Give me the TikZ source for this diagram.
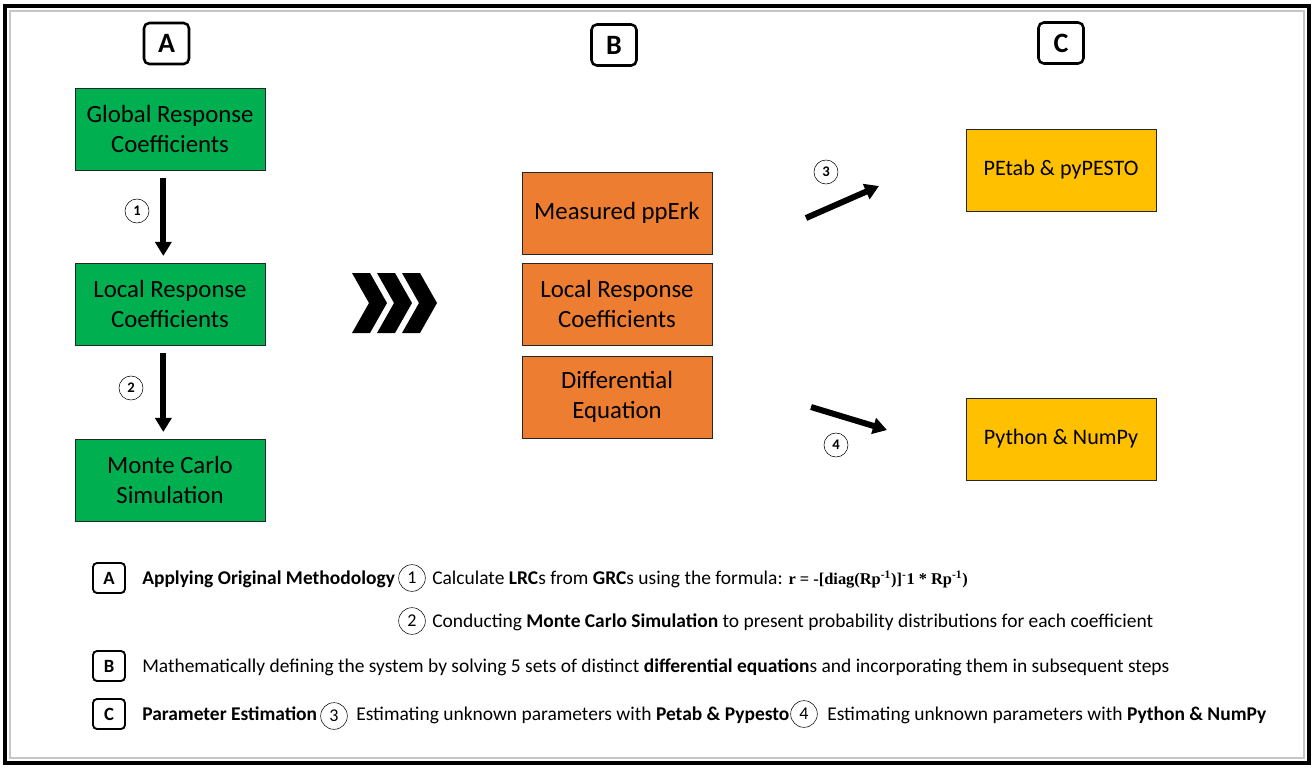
\documentclass[tikz,border=0pt]{standalone}
\usepackage{fontspec}
\setmainfont{Carlito}
\newfontfamily\formfont{Liberation Serif}
\usetikzlibrary{positioning,arrows.meta,calc}
\definecolor{grcgreen}{HTML}{00B050}
\definecolor{erkorange}{HTML}{ED7D31}
\definecolor{estyellow}{HTML}{FFC000}

\begin{document}
\begin{tikzpicture}[
x=0.75pt,y=-0.75pt,
stage/.style={
  draw=black!85,
  line width=0.6pt,
  minimum width=142.5pt,
  minimum height=61.5pt,
  align=center,
  font=\fontsize{18.6}{22.6}\selectfont
},
tool/.style={
  stage,
  fill=estyellow,
  font=\fontsize{16.6}{20}\selectfont
},
tag/.style={
  draw,
  rounded corners=4pt,
  line width=1.9pt,
  minimum width=33.75pt,
  minimum height=30.75pt,
  font=\fontsize{21}{24}\selectfont\bfseries
},
keytag/.style={
  draw,
  rounded corners=3pt,
  line width=1.4pt,
  minimum width=24pt,
  minimum height=22.5pt,
  font=\fontsize{14}{16}\selectfont\bfseries
},
num/.style={
  draw,
  circle,
  inner sep=0pt,
  minimum size=18pt,
  font=\fontsize{11}{12}\selectfont\bfseries
},
keynum/.style={
  draw,
  circle,
  inner sep=0pt,
  minimum size=20pt,
  font=\fontsize{13.5}{15}\selectfont
},
flow/.style={
  -{Triangle[length=10.5pt,width=12pt]},
  line width=4.5pt
},
legend/.style={
  anchor=base west,
  inner sep=0pt,
  font=\fontsize{14.6}{17}\selectfont
}
]
\useasboundingbox (0,0) rectangle (1314,769);
\draw[gray!45,line width=1pt] (10,11) rectangle (1304,758);
\draw[line width=3pt] (5,6) rectangle (1309,763);

\node[tag] (tA) at (166.5,43.5) {A};
\node[tag] (tB) at (614,45) {B};
\node[tag] (tC) at (1061,43) {C};

\node[stage,fill=grcgreen] (grc) at (170,129)
  {Global Response\\Coefficients};
\node[stage,fill=grcgreen] (lrc) at (170,304)
  {Local Response\\Coefficients};
\node[stage,fill=grcgreen] (mcs) at (170,480)
  {Monte Carlo\\Simulation};

\draw[flow] ([xshift=-5pt,yshift=-6pt]grc.south) -- ([xshift=-5pt,yshift=5pt]lrc.north);
\draw[flow] ([xshift=-5pt,yshift=-6pt]lrc.south) -- ([xshift=-5pt,yshift=5pt]mcs.north);
\node[num] (n1) at (137,211) {1};
\node[num] (n2) at (131,388) {2};

\foreach \dx in {0,25,50}
  \fill[shift={(\dx,0)}] (352,273) -- (370,273) -- (387,303) -- (370,333) -- (352,333) -- (369,303) -- cycle;

\node[stage,fill=erkorange] (erk) at (617,213)
  {Measured ppErk};
\node[stage,fill=erkorange] (lrcB) at (617,304)
  {Local Response\\Coefficients};
\node[stage,fill=erkorange] (deq) at (617,397)
  {Differential\\Equation};

\node[tool] (petab) at (1061,170)
  {PEtab \& pyPESTO};
\node[tool] (numpy) at (1061,439)
  {Python \& NumPy};

\coordinate (s3) at (806,218);
\coordinate (e3) at (879,186);
\coordinate (s4) at (811,407);
\coordinate (e4) at (887,430);
\draw[flow] (s3) -- (e3);
\draw[flow] (s4) -- (e4);
\node[num] (n3) at (826,172) {3};
\node[num] (n4) at (836,445) {4};

\node[keytag] (kA) at (109,578) {A};
\node[legend] (kAtxt) at (142,584) {\textbf{Applying Original Methodology}};
\node[keynum] (k1) at (412,578) {1};
\node[legend] (k1txt) at (432,584)
  {Calculate \textbf{LRC}s from \textbf{GRC}s using the formula: {\formfont\bfseries\fontsize{12.3}{14}\selectfont r = -[diag(Rp\textsuperscript{-1})]\textsuperscript{-}1 * Rp\textsuperscript{-1})}};
\node[keynum] (k2) at (412,621) {2};
\node[legend] (k2txt) at (432,627)
  {Conducting \textbf{Monte Carlo Simulation} to present probability distributions for each coefficient};

\node[keytag] (kB) at (109,666) {B};
\node[legend] (kBtxt) at (142,672)
  {Mathematically defining the system by solving 5 sets of distinct \textbf{differential equation}s and incorporating them in subsequent steps};

\node[keytag] (kC) at (109,714) {C};
\node[legend] (kCtxt) at (142,720) {\textbf{Parameter Estimation}};
\node[keynum] (k3) at (334,716) {3};
\node[legend] (k3txt) at (356,720)
  {Estimating unknown parameters with \textbf{Petab \& Pypesto}};
\node[keynum] (k4) at (804,714) {4};
\node[legend] (k4txt) at (827,720)
  {Estimating unknown parameters with \textbf{Python \& NumPy}};
\end{tikzpicture}
\end{document}
